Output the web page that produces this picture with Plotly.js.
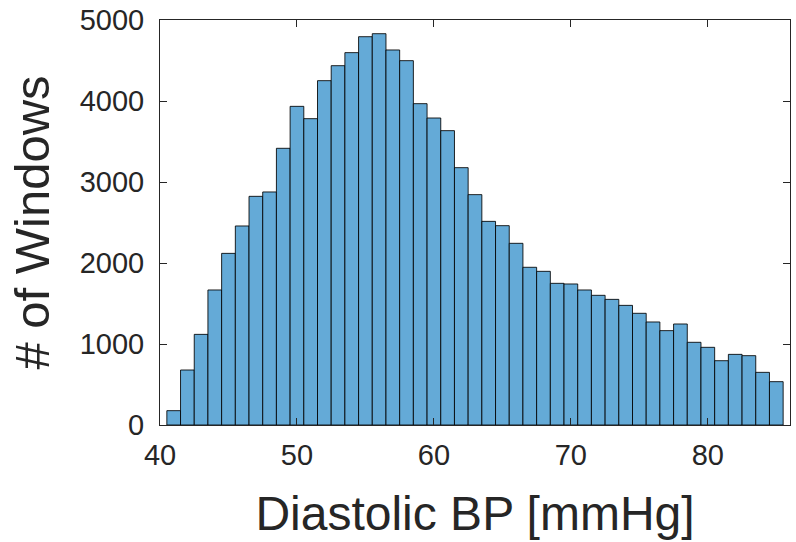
<!DOCTYPE html>
<html>
<head>
<meta charset="utf-8">
<script src="https://cdn.plot.ly/plotly-3.0.1.min.js"></script>
<style>html,body{margin:0;padding:0;background:#fff;}#chart{width:796px;height:542px;}</style>
</head>
<body>
<div id="chart"></div>
<script>
// Bin centers (mmHg), bin width 1
const binCenters = [41,42,43,44,45,46,47,48,49,50,51,52,53,54,55,56,57,58,59,60,61,62,63,64,65,66,67,68,69,70,71,72,73,74,75,76,77,78,79,80,81,82,83,84,85];
// Number of windows per bin
const windowCounts = [177,679,1119,1667,2119,2457,2823,2877,3416,3934,3782,4251,4436,4597,4794,4831,4630,4498,3967,3790,3634,3177,2844,2514,2461,2243,1947,1897,1749,1741,1667,1601,1551,1477,1379,1272,1165,1247,1021,959,794,872,856,650,535];
const xTickVals = [40,50,60,70,80];
const yTickVals = [0,1000,2000,3000,4000,5000];

const fontFam = '"Liberation Sans", Arial, Helvetica, sans-serif';
const txt = '#262626';

const trace = {
  type: 'bar',
  x: binCenters,
  y: windowCounts,
  width: 1,
  marker: {color: '#64aad7', line: {color: 'rgba(0,0,0,0.85)', width: 1}},
  hoverinfo: 'x+y'
};

const layout = {
  width: 796, height: 542,
  margin: {l: 160, r: 6, t: 20, b: 117},
  paper_bgcolor: '#fff', plot_bgcolor: '#fff',
  showlegend: false,
  bargap: 0,
  font: {family: fontFam, color: txt, size: 29},
  xaxis: {
    range: [40, 86], tickvals: xTickVals, ticktext: xTickVals.map(String),
    ticks: 'inside', ticklen: 7, tickwidth: 1, tickcolor: txt,
    showline: true, linecolor: txt, linewidth: 1, mirror: 'ticks',
    showgrid: false, zeroline: false,
    ticklabelstandoff: 4,
    tickfont: {size: 29, family: fontFam, color: txt},
    title: {text: 'Diastolic BP [mmHg]', font: {size: 48, family: fontFam, color: txt}, standoff: 26},
    automargin: false
  },
  yaxis: {
    range: [0, 5000], tickvals: yTickVals, ticktext: yTickVals.map(String),
    ticks: 'inside', ticklen: 7, tickwidth: 1, tickcolor: txt,
    showline: true, linecolor: txt, linewidth: 1, mirror: 'ticks',
    showgrid: false, zeroline: false,
    ticklabelstandoff: 9,
    tickfont: {size: 29, family: fontFam, color: txt},
    title: {text: '# of Windows', font: {size: 49, family: fontFam, color: txt}, standoff: 14},
    automargin: false
  }
};

Plotly.newPlot('chart', [trace], layout, {displayModeBar: false, staticPlot: true});
</script>
</body>
</html>
